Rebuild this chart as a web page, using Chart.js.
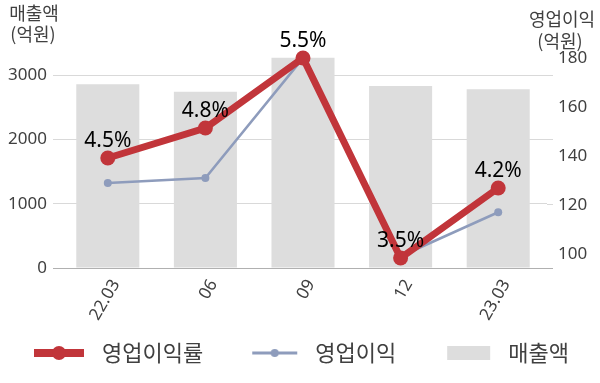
<!DOCTYPE html>
<html><head><meta charset="utf-8">
<script src="https://cdn.jsdelivr.net/npm/chart.js@4"></script>
<style>html,body{margin:0;padding:0;background:#fff}#wrap{width:600px;height:383px}</style>
</head><body><div id="wrap"><canvas id="c" width="600" height="383"></canvas></div>
<script>
const categories = ['22.03', '06', '09', '12', '23.03'];
const revenue = [2860, 2740, 3270, 2830, 2780];   // 매출액 (억원)
const opProfit = [129, 131, 180, 99, 117];        // 영업이익 (억원)
const opMargin = [4.5, 4.8, 5.5, 3.5, 4.2];       // 영업이익률 (%)
const leftTicks = [0, 1000, 2000, 3000];
const rightTicks = [100, 120, 140, 160, 180];
const seriesNames = ['영업이익률', '영업이익', '매출액'];
const leftTitle = ['매출액', '(억원)'];
const rightTitle = ['영업이익', '(억원)'];

const RED = '#C1353A', BLUE = '#8E9CBC', GRAY = '#DDDDDD';
const GRID = '#D9D9D9', AXIS = '#B0B0B0', TEXT = '#404040';
const LATIN = '"Noto Sans", "Noto Sans CJK KR", sans-serif';
const KO = '"Noto Sans CJK KR", "Noto Sans", sans-serif';

const SYM_W = 91;
function symbol(draw) {
  const c = document.createElement('canvas');
  c.width = SYM_W; c.height = 24;
  draw(c.getContext('2d'));
  return c;
}
const symbols = [
  symbol(g => { g.strokeStyle = RED; g.lineWidth = 8; g.beginPath(); g.moveTo(34, 12); g.lineTo(84, 12); g.stroke();
                g.fillStyle = RED; g.beginPath(); g.arc(59, 12, 7, 0, Math.PI * 2); g.fill(); }),
  symbol(g => { g.strokeStyle = BLUE; g.lineWidth = 3; g.beginPath(); g.moveTo(39, 12); g.lineTo(84, 12); g.stroke();
                g.fillStyle = BLUE; g.beginPath(); g.arc(61.5, 12, 4, 0, Math.PI * 2); g.fill(); }),
  symbol(g => { g.fillStyle = GRAY; g.fillRect(41, 5, 43, 14); })
];

const rateLabels = {
  id: 'rateLabels',
  afterDatasetsDraw(chart) {
    const ctx = chart.ctx, meta = chart.getDatasetMeta(0);
    ctx.save();
    ctx.font = '21px ' + LATIN; ctx.fillStyle = '#000';
    ctx.textAlign = 'center'; ctx.textBaseline = 'alphabetic';
    meta.data.forEach((pt, i) => ctx.fillText(opMargin[i].toFixed(1) + '%', pt.x, pt.y - 11));
    ctx.restore();
  }
};
const axisTitles = {
  id: 'axisTitles',
  afterDraw(chart) {
    const ctx = chart.ctx;
    ctx.save();
    ctx.font = '18px ' + KO; ctx.fillStyle = TEXT;
    ctx.textAlign = 'center'; ctx.textBaseline = 'middle';
    ctx.fillText(leftTitle[0], 34, 13);
    ctx.fillText(leftTitle[1], 33, 34);
    ctx.fillText(rightTitle[0], 562, 19);
    ctx.fillText(rightTitle[1], 560, 41);
    ctx.restore();
  }
};
const gridExt = {
  id: 'gridExt',
  beforeDatasetsDraw(chart) {
    const ctx = chart.ctx, s = chart.scales.y, r = chart.chartArea.right;
    ctx.save(); ctx.lineWidth = 1;
    leftTicks.forEach(v => {
      const y = Math.round(s.getPixelForValue(v)) + 0.5;
      ctx.strokeStyle = v === 0 ? AXIS : GRID;
      ctx.beginPath(); ctx.moveTo(r, y); ctx.lineTo(r + 6, y); ctx.stroke();
    });
    ctx.restore();
  }
};

new Chart(document.getElementById('c'), {
  data: {
    labels: categories,
    datasets: [
      { type: 'line', label: seriesNames[0], data: opMargin, yAxisID: 'yPct', order: 1,
        borderColor: RED, backgroundColor: RED, borderWidth: 7, pointRadius: 7.5, pointBorderWidth: 0,
        pointBackgroundColor: RED, tension: 0 },
      { type: 'line', label: seriesNames[1], data: opProfit, yAxisID: 'y2', order: 2,
        borderColor: BLUE, backgroundColor: BLUE, borderWidth: 2.5, pointRadius: 4, pointBorderWidth: 0,
        pointBackgroundColor: BLUE, tension: 0 },
      { type: 'bar', label: seriesNames[2], data: revenue, yAxisID: 'y', order: 3,
        backgroundColor: GRAY, barPercentage: 0.646, categoryPercentage: 1 }
    ]
  },
  options: {
    responsive: false, animation: false, devicePixelRatio: 1,
    layout: { padding: { left: -10, right: 0, top: 43, bottom: 9 } },
    plugins: {
      tooltip: { enabled: false },
      legend: {
        position: 'bottom', align: 'start',
        labels: {
          usePointStyle: true, pointStyleWidth: SYM_W, padding: 10, color: TEXT,
          font: { family: KO, size: 22 },
          generateLabels: chart => chart.data.datasets.map((ds, i) => ({
            text: ds.label, pointStyle: symbols[i], fillStyle: 'transparent', strokeStyle: 'transparent',
            lineWidth: 0, hidden: !chart.isDatasetVisible(i), datasetIndex: i, fontColor: TEXT
          }))
        }
      }
    },
    scales: {
      x: {
        type: 'category', offset: true,
        grid: { display: false, drawTicks: false }, border: { display: false },
        ticks: { color: TEXT, font: { family: LATIN, size: 17 }, minRotation: 60, maxRotation: 60,
                 autoSkip: false, padding: 8, labelOffset: 8 },
        afterFit: s => { s.height = 64; }
      },
      y: {
        position: 'left', min: 0, max: 3500,
        afterBuildTicks: s => { s.ticks = leftTicks.map(v => ({ value: v })); },
        grid: { color: c => (c.tick && c.tick.value === 0 ? AXIS : GRID), lineWidth: 1, tickLength: 6 },
        border: { display: false },
        ticks: { color: TEXT, font: { family: LATIN, size: 17 }, padding: 6, callback: v => String(v) },
        afterFit: s => { s.width = 69; }
      },
      y2: {
        position: 'right', min: 94.2, max: 186.2,
        afterBuildTicks: s => { s.ticks = rightTicks.map(v => ({ value: v })); },
        grid: { display: false, drawTicks: false }, border: { display: false },
        ticks: { color: TEXT, font: { family: LATIN, size: 17 }, padding: 11, callback: v => String(v) },
        afterFit: s => { s.width = 53; }
      },
      yPct: { display: false, min: 3.4, max: 5.65 }
    }
  },
  plugins: [gridExt, rateLabels, axisTitles]
});
</script>
</body></html>
